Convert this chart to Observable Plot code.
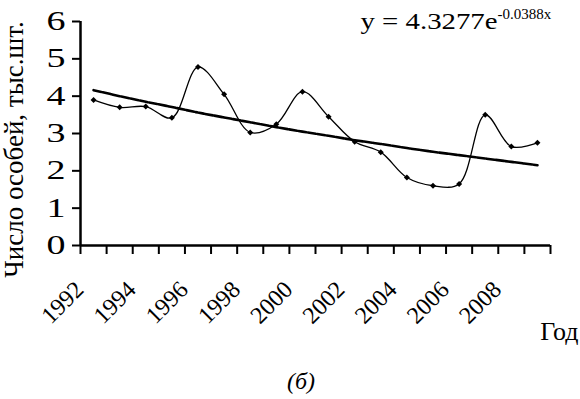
<!DOCTYPE html>
<html>
<head>
<meta charset="utf-8">
<script src="https://cdn.jsdelivr.net/npm/d3@7"></script>
<script src="https://cdn.jsdelivr.net/npm/@observablehq/plot@0.6"></script>
<style>
  html, body { margin: 0; padding: 0; background: white; }
  #wrap { position: relative; width: 580px; height: 399px; overflow: hidden; }
  #caption { position: absolute; left: 0; top: 366px; width: 602px; text-align: center;
             font-family: "Liberation Serif", "Times New Roman", Times, "DejaVu Serif", serif;
             font-style: italic; font-size: 24px; line-height: 30px; color: black; }
</style>
</head>
<body>
<div id="wrap">
  <div id="chart"></div>
  <div id="caption">(б)</div>
</div>
<script>
// --- data ---
const years  = [1992, 1993, 1994, 1995, 1996, 1997, 1998, 1999, 2000, 2001, 2002, 2003, 2004, 2005, 2006, 2007, 2008, 2009];
const counts = [3.90, 3.70, 3.72, 3.42, 4.78, 4.05, 3.03, 3.25, 4.12, 3.45, 2.78, 2.50, 1.82, 1.60, 1.65, 3.50, 2.65, 2.75];
const trend  = [4.16, 4.00, 3.85, 3.71, 3.56, 3.43, 3.30, 3.17, 3.05, 2.94, 2.82, 2.72, 2.61, 2.51, 2.42, 2.33, 2.24, 2.15];
const yTicks = [0, 1, 2, 3, 4, 5, 6];
const xTickLabels = [1992, 1994, 1996, 1998, 2000, 2002, 2004, 2006, 2008];
const yAxisTitle = "Число особей, тыс.шт.";
const xAxisTitle = "Год";
const eqMain = "y = 4.3277e";
const eqExp = "-0.0388x";

const rows = years.map((year, i) => ({year, value: counts[i]}));
const trendRows = years.map((year, i) => ({year, value: trend[i]}));
const edges = [...years.map(y => y - 0.5), years[years.length - 1] + 0.5];

const serif = '"Liberation Serif", "Times New Roman", Times, "DejaVu Serif", serif';

const chart = Plot.plot({
  width: 580,
  height: 350,
  marginLeft: 80,
  marginRight: 30,
  marginTop: 21,
  marginBottom: 105,
  style: {fontFamily: serif, fontSize: "24px", color: "black", background: "white", overflow: "visible"},
  x: {type: "linear", domain: [edges[0], edges[edges.length - 1]]},
  y: {domain: [0, 6]},
  marks: [
    Plot.axisY({ticks: yTicks, tickSize: 8, tickPadding: 7, strokeWidth: 2, fontSize: 27, label: null, tickFormat: d => String(d)}),
    Plot.axisX({ticks: edges, tickSize: 9, strokeWidth: 2, tickFormat: () => "", label: null}),
    Plot.axisX({ticks: xTickLabels, tickSize: 0, tickPadding: 40, tickRotate: -45, dx: -14, fontSize: 24, tickFormat: d => String(d), label: null}),
    Plot.ruleX([edges[0]], {strokeWidth: 2.5}),
    Plot.ruleY([0], {strokeWidth: 2.5}),
    Plot.line(trendRows, {x: "year", y: "value", stroke: "black", strokeWidth: 2.6, strokeDasharray: "8,1.5"}),
    Plot.line(rows, {x: "year", y: "value", curve: "catmull-rom", stroke: "black", strokeWidth: 1.3}),
    Plot.dot(rows, {x: "year", y: "value", symbol: "diamond2", r: 2.7, fill: "black", stroke: "none"}),
    Plot.text([yAxisTitle], {text: d => d, frameAnchor: "left", textAnchor: "middle", rotate: -90, dx: -66, dy: 16, fontSize: 27, lineAnchor: "middle"}),
    Plot.text([xAxisTitle], {text: d => d, frameAnchor: "bottom-right", textAnchor: "end", lineAnchor: "bottom", dx: 28, dy: 94, fontSize: 26}),
    Plot.text([eqMain], {text: d => d, frameAnchor: "top-left", textAnchor: "start", lineAnchor: "bottom", dx: 280, dy: 7, fontSize: 23}),
    Plot.text([eqExp], {text: d => d, frameAnchor: "top-left", textAnchor: "start", lineAnchor: "bottom", dx: 417, dy: -3, fontSize: 15})
  ]
});
document.getElementById("chart").appendChild(chart);

// stretch horizontal text glyphs like the reference
const yTickStrings = new Set(yTicks.map(String));
d3.select(chart).selectAll("text").each(function () {
  const t = this.textContent;
  const parentLabel = (this.parentNode && this.parentNode.getAttribute("aria-label")) || "";
  if (t === eqMain) {
    this.setAttribute("textLength", 137);
    this.setAttribute("lengthAdjust", "spacingAndGlyphs");
  } else if (yTickStrings.has(t) && parentLabel.indexOf("y-axis") >= 0) {
    this.setAttribute("textLength", 19);
    this.setAttribute("lengthAdjust", "spacingAndGlyphs");
  }
});
</script>
</body>
</html>
